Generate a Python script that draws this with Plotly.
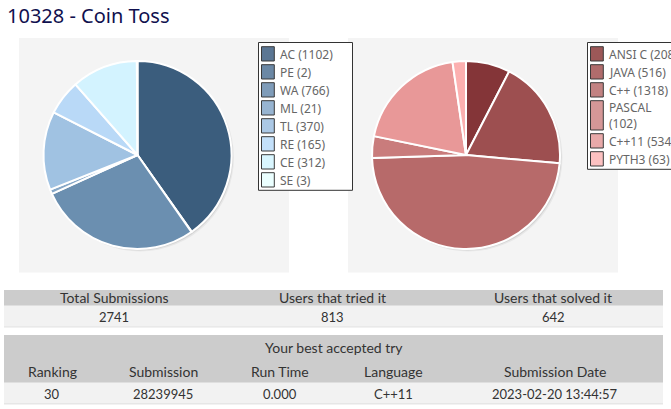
import plotly.graph_objects as go

W, H = 671, 409

# ---------------- data ----------------
title_text = "10328 - Coin Toss"

verdict_names = ["AC", "PE", "WA", "ML", "TL", "RE", "CE", "SE"]
verdict_counts = [1102, 2, 766, 21, 370, 165, 312, 3]
verdict_colors = ["#3b5d7d", "#4f7090", "#6b8fb0", "#86a7c7", "#a0c2e2", "#b9d9f7", "#d3f3ff", "#e8ffff"]
verdict_swatch = ["#5b7693", "#6b88a5", "#7f9cb9", "#97b4d1", "#abc8e5", "#c3e0fa", "#d9f6ff", "#ebffff"]

lang_names = ["ANSI C", "JAVA", "C++", "PASCAL", "C++11", "PYTH3"]
lang_counts = [208, 516, 1318, 102, 534, 63]
lang_colors = ["#843538", "#9d4f50", "#b76a6a", "#c97c7c", "#e89898", "#fcb0b0"]
lang_swatch = ["#9c5858", "#b06c6c", "#c28282", "#d59797", "#e8a9a9", "#fcc1c1"]
lang_wrap = {"PASCAL": True}

stats_headers = ["Total Submissions", "Users that tried it", "Users that solved it"]
stats_values = ["2741", "813", "642"]

best_title = "Your best accepted try"
best_headers = ["Ranking", "Submission", "Run Time", "Language", "Submission Date"]
best_values = ["30", "28239945", "0.000", "C++11", "2023-02-20 13:44:57"]

# ---------------- helpers ----------------
def px(x):
    return x / W

def py(y):
    return 1 - y / H

FONT = "Lato"
shapes = []
annotations = []

def rect(x0, y0, x1, y1, fill, line_color=None, line_width=0, layer="below"):
    shapes.append(dict(type="rect", xref="paper", yref="paper",
                       x0=px(x0), x1=px(x1), y0=py(y1), y1=py(y0),
                       fillcolor=fill, layer=layer,
                       line=dict(color=line_color or fill, width=line_width)))

def text(x, y, s, size=13, color="#333", anchor="center", family=FONT):
    annotations.append(dict(xref="paper", yref="paper", x=px(x), y=py(y),
                            text=s, showarrow=False, xanchor=anchor, yanchor="middle",
                            align=anchor if anchor != "center" else "center",
                            font=dict(family=family, size=size, color=color)))

# ---------------- panels ----------------
rect(19, 38, 289, 272.5, "#f4f4f4")
rect(348, 38, 618, 272.5, "#f4f4f4")

# pies
pies = [
    (verdict_names, verdict_counts, verdict_colors, 137.5, 155, 94),
    (lang_names, lang_counts, lang_colors, 466, 155, 94),
]
fig = go.Figure()
for names, vals, cols, cx, cy, r in pies:
    # soft shadow
    for off, alpha in [(2.5, 0.05), (1.5, 0.08)]:
        shapes.append(dict(type="circle", xref="paper", yref="paper",
                           x0=px(cx - r + off), x1=px(cx + r + off),
                           y0=py(cy + r + off), y1=py(cy - r + off),
                           fillcolor=f"rgba(0,0,0,{alpha})", line=dict(width=0), layer="below"))
    fig.add_trace(go.Pie(
        labels=names, values=vals, sort=False, direction="clockwise", rotation=0,
        textinfo="none", showlegend=False,
        marker=dict(colors=cols, line=dict(color="white", width=2)),
        domain=dict(x=[px(cx - r), px(cx + r)], y=[py(cy + r), py(cy - r)]),
    ))

# ---------------- legends ----------------
def legend(x0, y0, x1, names, vals, swatches, wrap):
    y = y0 + 4.2
    items = []
    for n, v, c in zip(names, vals, swatches):
        lines = 2 if wrap.get(n) else 1
        h = 14.3 + (lines - 1) * 15
        items.append((n, v, c, y, h, lines))
        y += h + 3.7
    y_end = y - 3.7 + 3.3
    rect(x0, y0, x1, y_end, "white", "#333333", 1, layer="below")
    for n, v, c, yy, h, lines in items:
        rect(x0 + 3, yy, x0 + 15.8, yy + h, c, "#3a3a3a", 1, layer="below")
        lab = f"{n}<br>({v})" if lines == 2 else f"{n} ({v})"
        text(x0 + 19, yy + h / 2 + 0.3, lab, size=12, color="#666666", anchor="left",
             family="Noto Sans")

legend(258.5, 42.5, 352.5, verdict_names, verdict_counts, verdict_swatch, {})
legend(587.5, 42.5, 720, lang_names, lang_counts, lang_swatch, lang_wrap)

# ---------------- title ----------------
text(5, 15.5, title_text, size=20, color="#10104e", anchor="left", family="Noto Sans")

# ---------------- tables ----------------
TX0, TX1 = 4, 663
rect(TX0, 290, TX1, 305.7, "#cccccc")
rect(TX0, 305.7, TX1, 327.3, "#f2f2f2")
rect(TX0, 326.3, TX1, 327.6, "#e6e6e6")
stats_x = [114, 332.5, 553]
for xc, hdr, val in zip(stats_x, stats_headers, stats_values):
    text(xc, 297.8, hdr, size=14)
    text(xc, 316.6, val, size=13)

rect(TX0, 335, TX1, 382.7, "#cccccc")
rect(TX0, 382.7, TX1, 403.5, "#f2f2f2")
rect(TX0, 403.0, TX1, 404.6, "#e6e6e6")
text((TX0 + TX1) / 2, 347, best_title, size=14)
best_x = [52, 163, 280, 393.5, 555]
for xc, hdr, val in zip(best_x, best_headers, best_values):
    text(xc, 371, hdr, size=14)
    text(xc, 393.5, val, size=13)

fig.update_layout(
    width=W, height=H, margin=dict(l=0, r=0, t=0, b=0),
    paper_bgcolor="white", plot_bgcolor="white",
    shapes=shapes, annotations=annotations,
)
fig.write_html("out.html")
